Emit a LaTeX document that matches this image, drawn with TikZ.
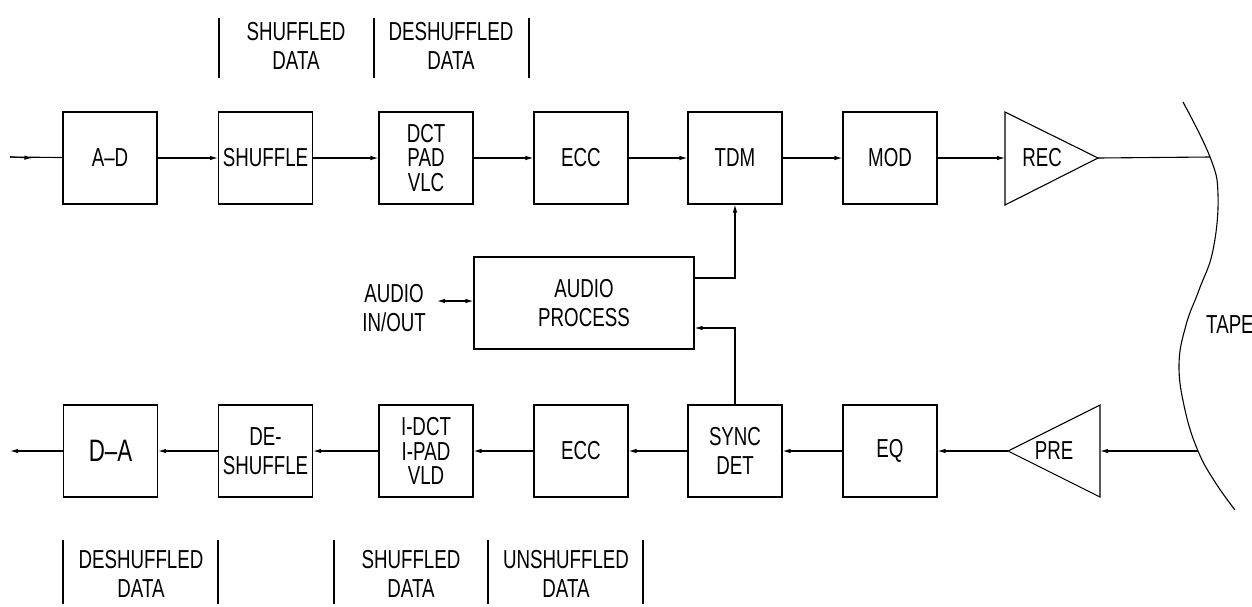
\documentclass[tikz,border=0pt]{standalone}
\usepackage{fontspec}
\setmainfont{Liberation Sans}[FakeStretch=0.72]
\usetikzlibrary{positioning,arrows.meta}

\begin{document}
\begin{tikzpicture}[x=1pt, y=-1pt,
    font=\fontsize{26}{28.5}\selectfont,
    box/.style   ={draw, line width=1.1pt, minimum width=94pt, minimum height=92pt,
                   inner sep=0pt, align=center},
    three/.style ={box, font=\fontsize{26}{24.5}\selectfont},
    arr/.style   ={-{Latex[length=8pt,width=4.5pt]}, line width=1.1pt},
    both/.style  ={{Latex[length=8pt,width=4.5pt]}-{Latex[length=8pt,width=4.5pt]}, line width=1.1pt},
    wire/.style  ={line width=1.1pt},
    amp/.style   ={draw, line width=1.1pt, line join=miter},
    lab/.style   ={align=center, inner sep=0pt}
  ]
    \useasboundingbox (0,0) rectangle (1252,606);

    % --- record path ---
    \coordinate (in) at (10,157);
    \node[box]   (ad)   at (110,158)   {A--D};
    \node[box]   (shuf) at (265.5,158) {SHUFFLE};
    \node[three] (dct)  at (426,158)   {DCT\\PAD\\VLC};
    \node[box]   (ecc)  at (581,158)   {ECC};
    \node[box]   (tdm)  at (735,158)   {TDM};
    \node[box]   (mod)  at (890,158)   {MOD};
    \coordinate (recin)  at (1005,158);
    \coordinate (recout) at (1098,158);
    \draw[amp] (1005,112) -- (recout) -- (1005,205) -- cycle;
    \node[lab] (rec) at (1042,158) {REC};

    \draw[wire] (in) -- (ad);
    \draw[arr]  (in) -- ([xshift=-30pt]ad.west);
    \draw[arr] (ad) -- (shuf);
    \draw[arr] (shuf) -- (dct);
    \draw[arr] (dct) -- (ecc);
    \draw[arr] (ecc) -- (tdm);
    \draw[arr] (tdm) -- (mod);
    \draw[arr] (mod) -- (recin);

    % --- tape ---
    \draw[wire] plot[smooth, tension=0.7] coordinates {(1183,102) (1210,157) (1218,195)
      (1213,250) (1199,290) (1186,325) (1179,365) (1185,410) (1198,451) (1215,482) (1235,510)};
    \coordinate (tapew) at (1210,157);
    \coordinate (taper) at (1198,451);
    \node[lab, anchor=west] (tape) at (1206,325) {TAPE};
    \draw[wire] (recout) -- (tapew);

    % --- audio ---
    \node[box, minimum width=220pt] (ap) at (584,303) {AUDIO\\PROCESS};
    \node[lab, anchor=east] (aio) at (426,308) {AUDIO\\IN/OUT};
    \coordinate (aioin) at (437,301);
    \draw[both] (aioin) -- (aioin -| ap.west);

    % --- playback path ---
    \coordinate (out) at (10,451);
    \node[box, font=\fontsize{31}{32}\selectfont] (da) at (110.5,451) {D--A};
    \node[box]   (desh) at (265.5,451) {DE-\\SHUFFLE};
    \node[three] (idct) at (426,451)   {I-DCT\\I-PAD\\VLD};
    \node[box]   (ecc2) at (581,451)   {ECC};
    \node[box]   (sync) at (735,451)   {SYNC\\DET};
    \node[box]   (eq)   at (890,451)   {EQ};
    \coordinate (prein)  at (1100,451);
    \coordinate (preout) at (1008,451);
    \draw[amp] (1100,405) -- (preout) -- (1100,497) -- cycle;
    \node[lab] (pre) at (1054,451) {PRE};

    \draw[arr] (taper) -- (prein);
    \draw[arr] (preout) -- (eq);
    \draw[arr] (eq) -- (sync);
    \draw[arr] (sync) -- (ecc2);
    \draw[arr] (ecc2) -- (idct);
    \draw[arr] (idct) -- (desh);
    \draw[arr] (desh) -- (da);
    \draw[arr] (da) -- (out);

    \draw[arr] ([yshift=25pt]ap.east) -| (tdm);
    \draw[arr] (sync) |- ([yshift=-25pt]ap.east);

    % --- data labels ---
    \foreach \x in {219,374,529} \draw[wire] (\x,18) -- (\x,78);
    \node[lab] (t1) at (296,46) {SHUFFLED\\DATA};
    \node[lab] (t2) at (451,46) {DESHUFFLED\\DATA};

    \foreach \x in {63,218,334,488,643} \draw[wire] (\x,540) -- (\x,604);
    \node[lab] (b1) at (141,574) {DESHUFFLED\\DATA};
    \node[lab] (b2) at (411,574) {SHUFFLED\\DATA};
    \node[lab] (b3) at (566,574) {UNSHUFFLED\\DATA};
\end{tikzpicture}
\end{document}
